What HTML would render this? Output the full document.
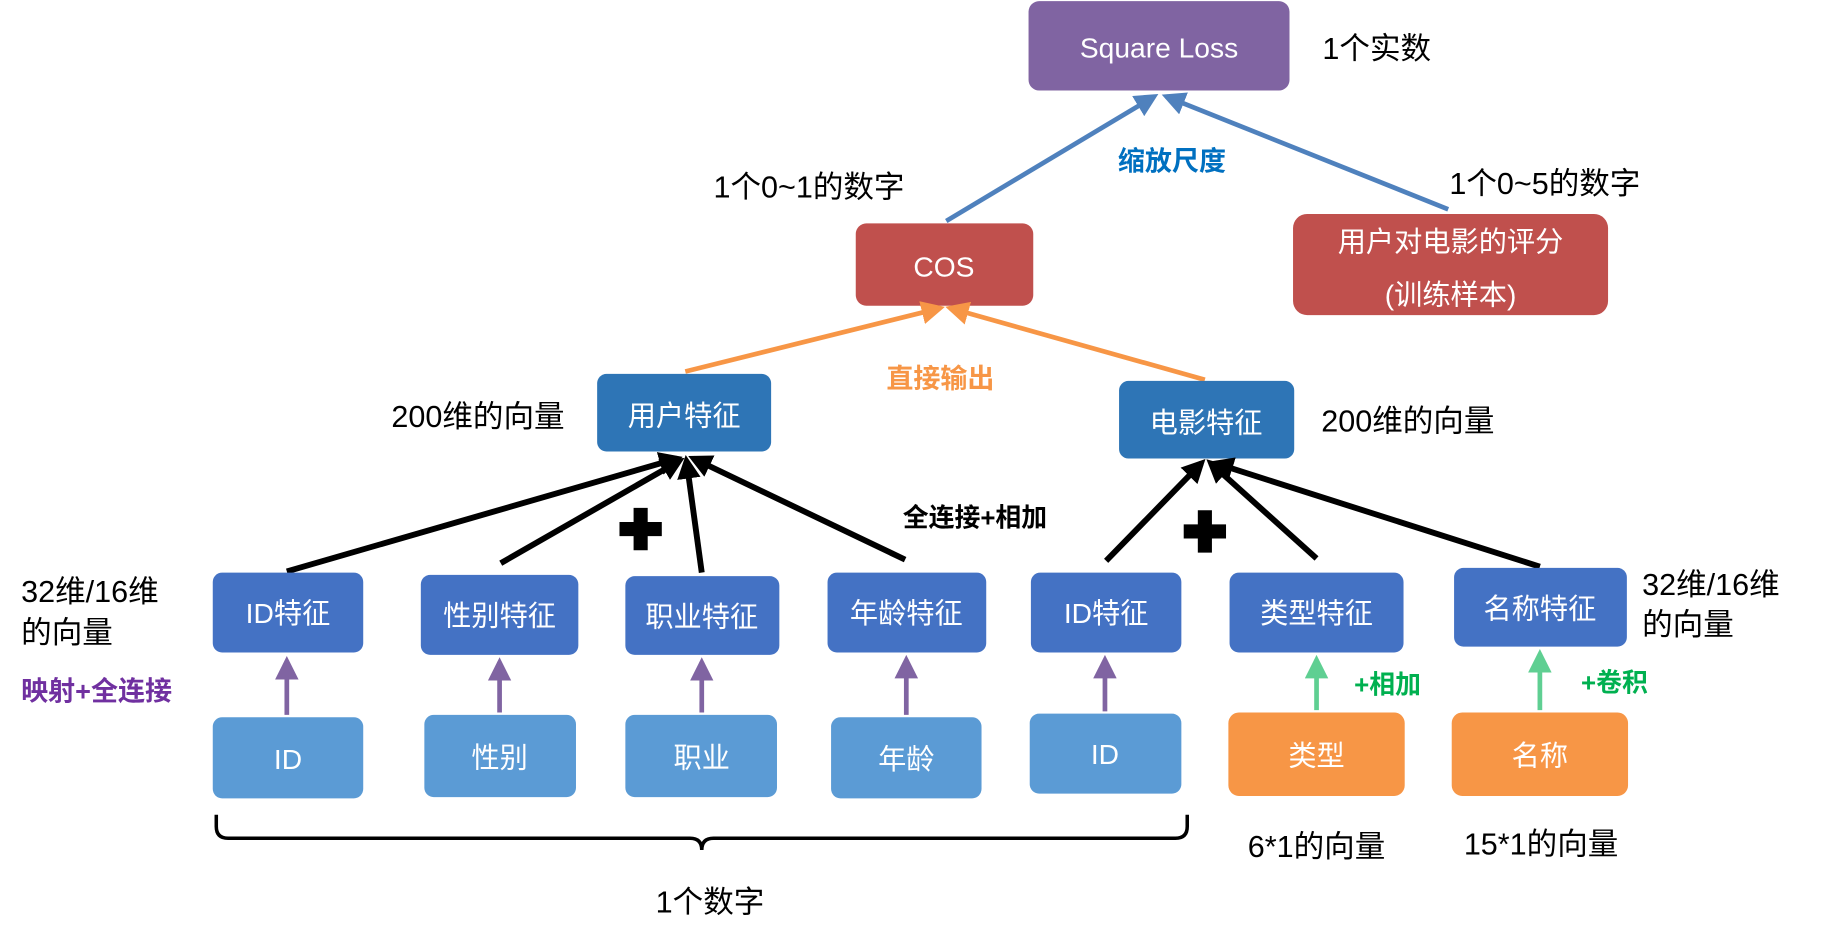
<!DOCTYPE html>
<html><head><meta charset="utf-8"><style>
html,body{margin:0;padding:0;background:#fff;width:1822px;height:930px;overflow:hidden}
svg text{font-family:"Liberation Sans","Noto Sans CJK SC",sans-serif}
</style></head><body>
<svg width="1822" height="930" viewBox="0 0 1550 791" preserveAspectRatio="none" xmlns="http://www.w3.org/2000/svg">
<defs>
<marker id="ab" markerWidth="5" markerHeight="5" refX="4" refY="2.5" orient="auto" markerUnits="strokeWidth"><path d="M0,0L5,2.5L0,5z" fill="#4f81bd"/></marker>
<marker id="ao" markerWidth="5" markerHeight="5" refX="4" refY="2.5" orient="auto" markerUnits="strokeWidth"><path d="M0,0L5,2.5L0,5z" fill="#f79646"/></marker>
<marker id="ak" markerWidth="4" markerHeight="4" refX="3" refY="2" orient="auto" markerUnits="strokeWidth"><path d="M0,0L4,2L0,4z" fill="#000"/></marker>
<marker id="ap" markerWidth="5" markerHeight="5" refX="4" refY="2.5" orient="auto" markerUnits="strokeWidth"><path d="M0,0L5,2.5L0,5z" fill="#8064a2"/></marker>
<marker id="ag" markerWidth="5" markerHeight="5" refX="4" refY="2.5" orient="auto" markerUnits="strokeWidth"><path d="M0,0L5,2.5L0,5z" fill="#5fcf92"/></marker>
</defs>
<!-- top boxes -->
<rect x="875" y="1" width="222" height="76" rx="9" fill="#8064a2"/>
<text x="986" y="49" font-size="24" fill="#fff" text-anchor="middle">Square Loss</text>
<text x="1125" y="50" font-size="26" fill="#000">1个实数</text>
<rect x="728" y="190" width="151" height="70" rx="9" fill="#c0504d"/>
<text x="803" y="235" font-size="24" fill="#fff" text-anchor="middle">COS</text>
<rect x="1100" y="182" width="268" height="86" rx="12" fill="#c0504d"/>
<text x="1234" y="214" font-size="24" fill="#fff" text-anchor="middle">用户对电影的评分</text>
<text x="1234" y="259" font-size="24" fill="#fff" text-anchor="middle">(训练样本)</text>
<text x="607" y="168" font-size="26" fill="#000">1个0~1的数字</text>
<text x="1233" y="165" font-size="26" fill="#000">1个0~5的数字</text>
<text x="997" y="145" font-size="23" font-weight="bold" fill="#0070c0" text-anchor="middle">缩放尺度</text>
<line x1="805" y1="188" x2="982" y2="82" stroke="#4f81bd" stroke-width="4" marker-end="url(#ab)"/>
<line x1="1232" y1="178" x2="992" y2="82" stroke="#4f81bd" stroke-width="4" marker-end="url(#ab)"/>
<line x1="583" y1="316" x2="800" y2="262" stroke="#f79646" stroke-width="4" marker-end="url(#ao)"/>
<line x1="1025" y1="323" x2="808" y2="262" stroke="#f79646" stroke-width="4" marker-end="url(#ao)"/>
<text x="800" y="330" font-size="23" font-weight="bold" fill="#f79646" text-anchor="middle">直接输出</text>
<!-- mid -->
<rect x="508" y="318" width="148" height="66" rx="8" fill="#2e75b6"/>
<text x="582" y="362" font-size="24" fill="#fff" text-anchor="middle">用户特征</text>
<rect x="952" y="324" width="149" height="66" rx="8" fill="#2e75b6"/>
<text x="1026" y="368" font-size="24" fill="#fff" text-anchor="middle">电影特征</text>
<text x="333" y="363" font-size="26" fill="#000">200维的向量</text>
<text x="1124" y="367" font-size="26" fill="#000">200维的向量</text>
<g stroke="#000" stroke-width="5" marker-end="url(#ak)">
<line x1="244" y1="486" x2="576" y2="390"/>
<line x1="426" y1="479" x2="578" y2="392"/>
<line x1="597" y1="487" x2="584" y2="392"/>
<line x1="770" y1="476" x2="590" y2="390"/>
<line x1="941" y1="477" x2="1022" y2="394"/>
<line x1="1120" y1="475" x2="1030" y2="394"/>
<line x1="1310" y1="482" x2="1034" y2="394"/>
</g>
<text x="768" y="448" font-size="22" font-weight="bold" fill="#000">全连接+相加</text>
<path d="M539,432h12v12h12v12h-12v12h-12v-12h-12v-12h12z" fill="#000"/>
<path d="M1019,434h12v12h12v12h-12v12h-12v-12h-12v-12h12z" fill="#000"/>
<!-- feature boxes -->
<g fill="#4472c4">
<rect x="181" y="487" width="128" height="68" rx="8"/>
<rect x="358" y="489" width="134" height="68" rx="8"/>
<rect x="532" y="490" width="131" height="67" rx="8"/>
<rect x="704" y="487" width="135" height="68" rx="8"/>
<rect x="877" y="487" width="128" height="68" rx="8"/>
<rect x="1046" y="487" width="148" height="68" rx="8"/>
<rect x="1237" y="483" width="147" height="67" rx="8"/>
</g>
<g font-size="24" fill="#fff" text-anchor="middle">
<text x="245" y="530">ID特征</text>
<text x="425" y="532">性别特征</text>
<text x="597" y="533">职业特征</text>
<text x="771" y="530">年龄特征</text>
<text x="941" y="530">ID特征</text>
<text x="1120" y="530">类型特征</text>
<text x="1310" y="526">名称特征</text>
</g>
<g fill="#5b9bd5">
<rect x="181" y="610" width="128" height="69" rx="8"/>
<rect x="361" y="608" width="129" height="70" rx="8"/>
<rect x="532" y="608" width="129" height="70" rx="8"/>
<rect x="707" y="610" width="128" height="69" rx="8"/>
<rect x="876" y="607" width="129" height="68" rx="8"/>
</g>
<g fill="#f79646">
<rect x="1045" y="606" width="150" height="71" rx="9"/>
<rect x="1235" y="606" width="150" height="71" rx="9"/>
</g>
<g font-size="24" fill="#fff" text-anchor="middle">
<text x="245" y="654">ID</text>
<text x="425" y="653">性别</text>
<text x="597" y="653">职业</text>
<text x="771" y="654">年龄</text>
<text x="940" y="650">ID</text>
<text x="1120" y="651">类型</text>
<text x="1310" y="651">名称</text>
</g>
<g stroke="#8064a2" stroke-width="4" marker-end="url(#ap)">
<line x1="244" y1="608" x2="244" y2="562"/>
<line x1="425" y1="606" x2="425" y2="563"/>
<line x1="597" y1="606" x2="597" y2="563"/>
<line x1="771" y1="608" x2="771" y2="561"/>
<line x1="940" y1="605" x2="940" y2="561"/>
</g>
<g stroke="#5fcf92" stroke-width="4" marker-end="url(#ag)">
<line x1="1120" y1="604" x2="1120" y2="561"/>
<line x1="1310" y1="604" x2="1310" y2="556"/>
</g>
<text x="18" y="512" font-size="26" fill="#000">32维/16维</text>
<text x="18" y="547" font-size="26" fill="#000">的向量</text>
<text x="1397" y="506" font-size="26" fill="#000">32维/16维</text>
<text x="1397" y="540" font-size="26" fill="#000">的向量</text>
<text x="18" y="596" font-size="23" font-weight="bold" fill="#7030a0">映射+全连接</text>
<text x="1152" y="590" font-size="22" font-weight="bold" fill="#00b050">+相加</text>
<text x="1345" y="588" font-size="22" font-weight="bold" fill="#00b050">+卷积</text>
<path d="M184,693 v10 q0,10 10,10 h393 q10,0 10,10 q0,-10 10,-10 h393 q10,0 10,-10 v-10" fill="none" stroke="#000" stroke-width="3"/>
<text x="604" y="776" font-size="26" fill="#000" text-anchor="middle">1个数字</text>
<text x="1120" y="729" font-size="26" fill="#000" text-anchor="middle">6*1的向量</text>
<text x="1311" y="727" font-size="26" fill="#000" text-anchor="middle">15*1的向量</text>
</svg>
</body></html>
